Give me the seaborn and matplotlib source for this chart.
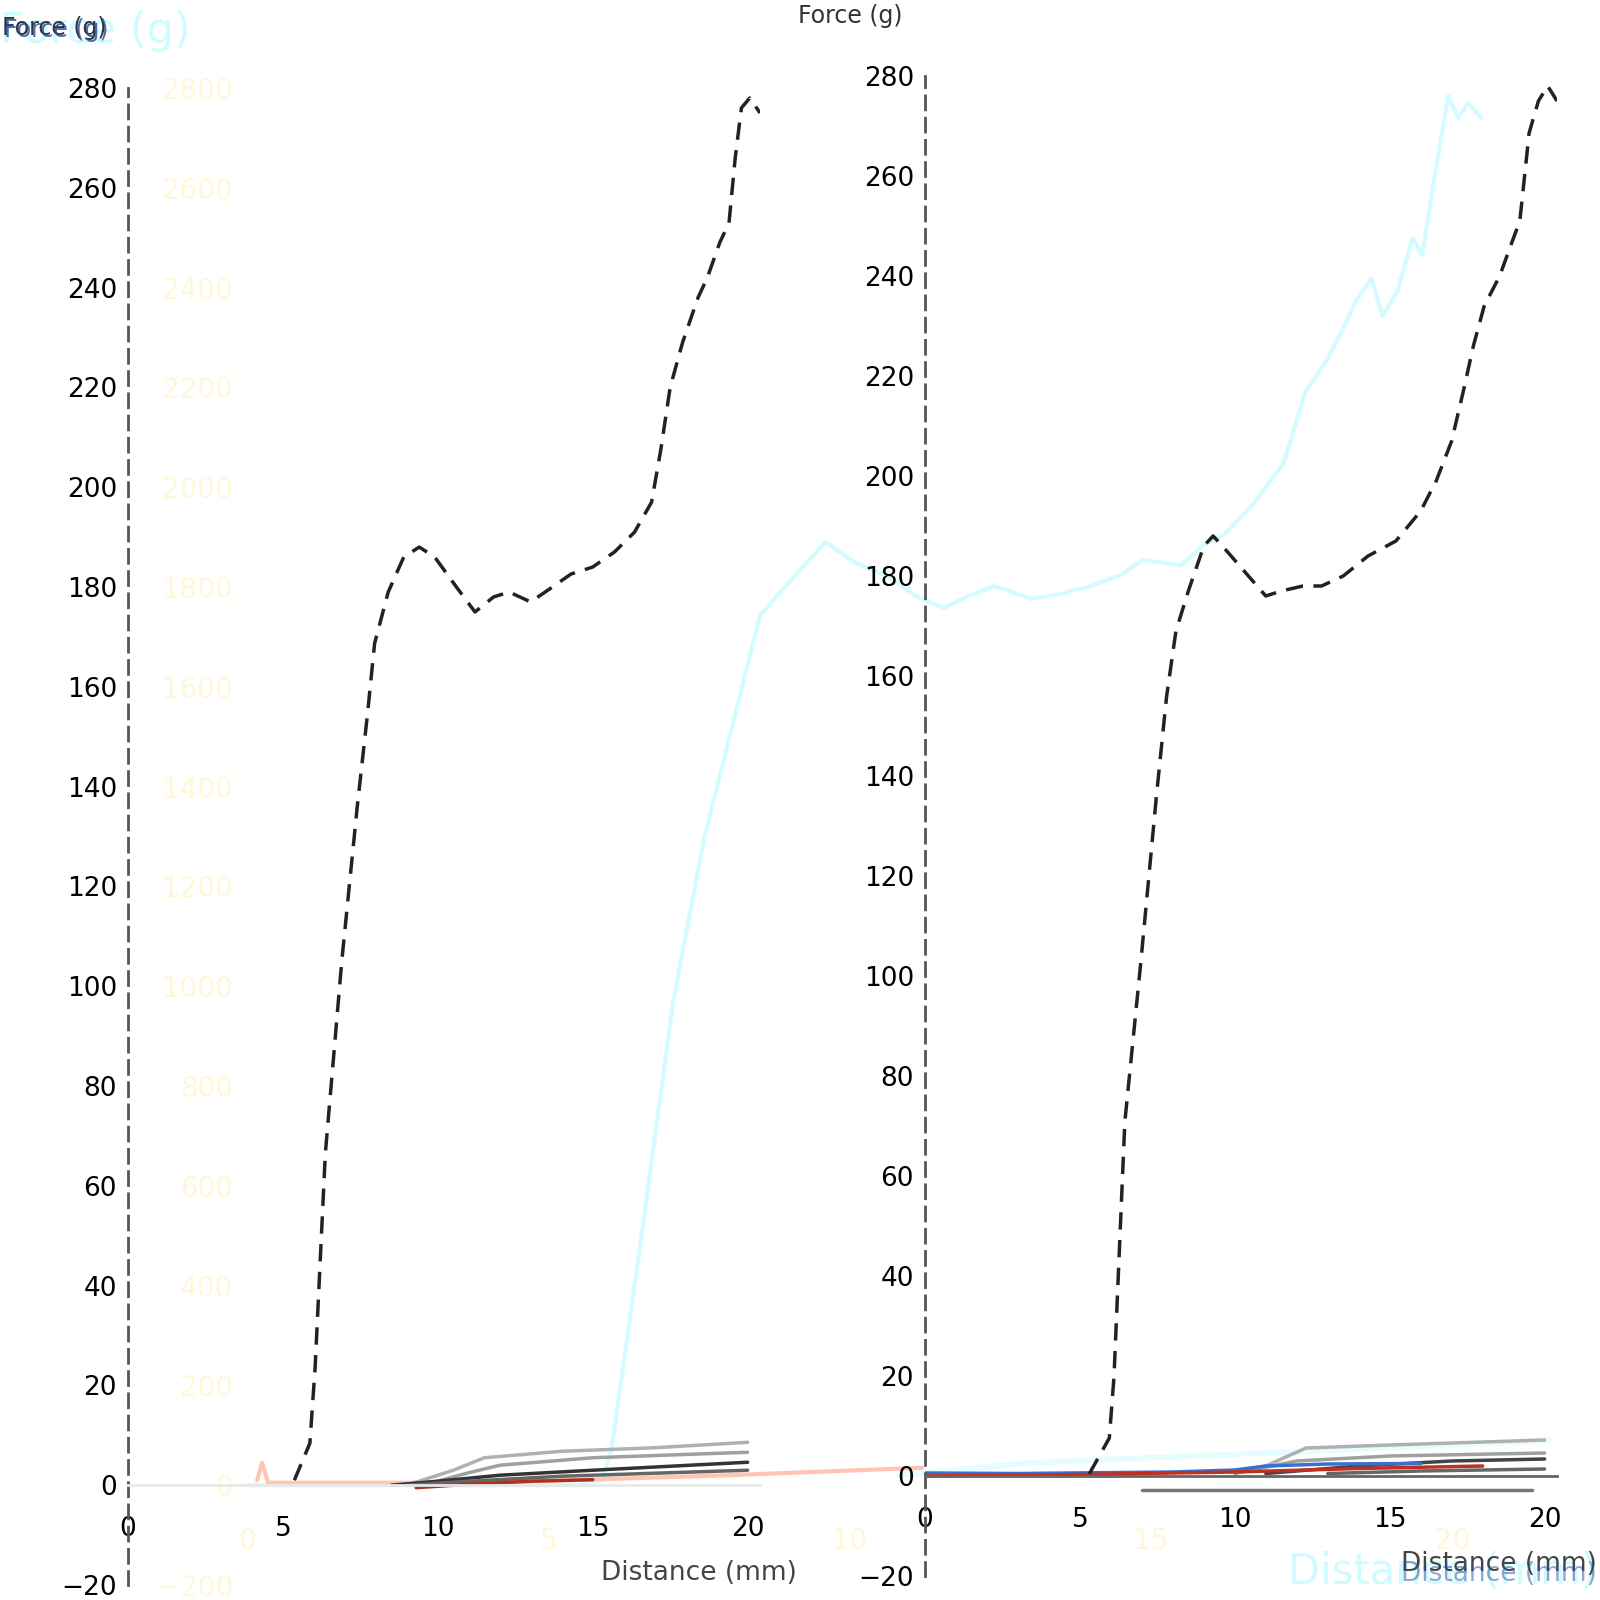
import matplotlib
matplotlib.use('Agg')
import matplotlib.pyplot as plt
import seaborn as sns
import pandas as pd

sns.set_style('white')
plt.rcParams['font.family'] = ['DejaVu Sans']

# light layer (whole width) -------------------------------------------------
bg_x = [0, 5.5, 5.89, 6.05, 6.57, 7.07, 7.58, 8.09, 8.51, 9.1, 9.6, 10.1, 10.6, 11.1, 11.56, 11.97,
        12.4, 12.65, 13.0, 13.5, 14.0, 14.5, 14.86, 15.5, 15.87, 16.2, 16.7, 17.2, 17.56, 17.9,
        18.16, 18.4, 18.66, 18.84, 19.09, 19.34, 19.5, 19.7, 19.93, 20.1, 20.26, 20.48]
bg_force = [0, 0, 10, 72, 521, 968, 1293, 1539, 1742, 1824, 1890, 1848, 1824, 1782, 1758, 1782,
            1802, 1792, 1776, 1786, 1802, 1824, 1854, 1844, 1884, 1904, 1966, 2048, 2190, 2251,
            2311, 2373, 2419, 2343, 2393, 2499, 2465, 2619, 2784, 2740, 2770, 2740]
bg_salmon_x = [0.17, 0.25, 0.35, 4.0, 8.0, 11.2]
bg_salmon_y = [10, 45, 5, 5, 20, 35]
bg_cyan2_x = [10.8, 13.0, 16.0, 19.0, 21.6]
bg_cyan2_y = [20, 45, 60, 75, 90]
bg_xticks = [0, 5, 10, 15, 20]
bg_yticks = list(range(-200, 2801, 200))

# dark layer: two panels -----------------------------------------------------
left_x = [5.37, 5.87, 6.04, 6.37, 6.9, 7.4, 7.73, 7.96, 8.4, 8.9, 9.4, 9.9, 10.6, 11.2, 11.8, 12.3,
          13.0, 13.7, 14.3, 15.0, 15.7, 16.35, 16.9, 17.2, 17.5, 17.9, 18.4, 18.7, 19.1, 19.4,
          19.6, 19.8, 20.07, 20.4]
left_force = [1, 8.4, 23.6, 66.5, 105, 136, 154.5, 168.7, 179, 186, 188, 186, 180, 175, 178, 179,
              177, 180, 182.6, 184, 187, 191, 197, 207.6, 220, 229, 238, 242, 249, 253,
              266, 276, 278, 275]
right_x = [5.3, 5.95, 6.1, 6.45, 6.97, 7.47, 7.8, 8.1, 8.5, 9.0, 9.3, 9.6, 10.3, 11.0, 11.5, 12.2,
           12.8, 13.5, 14.3, 15.2, 16.0, 16.5, 17.0, 17.4, 17.7, 18.05, 18.55, 18.9, 19.2, 19.5,
           19.8, 20.1, 20.4]
right_force = [0.4, 7.6, 19.8, 70.8, 103, 136, 156, 169, 177, 186, 188, 186, 181, 176, 177, 178,
               178, 180, 184, 187, 193, 199, 207, 217.6, 226, 234, 240, 246, 251, 268.6,
               275, 278, 275]

# small curves near zero (x, y, colour)
left_small = [
    ([9.0, 10.5, 11.5, 14.0, 17.0, 20.0], [0, 3, 5.5, 6.8, 7.5, 8.6], '#b0b0b0'),
    ([9.5, 11.0, 12.0, 15.0, 20.0], [0, 2.5, 4, 5.5, 6.6], '#a0a0a0'),
    ([8.5, 10.0, 12.0, 15.0, 20.0], [0, 0.8, 2, 3, 4.6], '#333333'),
    ([9.0, 11.0, 14.0, 20.0], [0, 0.8, 1.8, 3.0], '#666666'),
    ([9.3, 11.0, 13.0, 15.0], [-0.5, 0.2, 0.8, 1.1], '#b03020'),
]
right_small = [
    ([10.0, 11.0, 12.3, 15.0, 20.0], [0.8, 2, 5.6, 6.2, 7.2], '#b0b0b0'),
    ([10.0, 12.0, 15.0, 20.0], [0.5, 3, 4, 4.6], '#a0a0a0'),
    ([11.0, 14.0, 17.0, 20.0], [0.5, 2, 3, 3.4], '#444444'),
    ([13.0, 16.0, 20.0], [0.5, 1, 1.4], '#666666'),
    ([0.0, 3.0, 8.0, 10.0, 11.0, 13.0, 16.0], [0.6, 0.5, 0.8, 1.2, 2.0, 2.4, 2.5], '#3a70d0'),
    ([0.0, 5.0, 10.0, 14.0, 18.0], [0, 0.3, 0.8, 1.5, 2.0], '#c03020'),
    ([7.0, 12.0, 19.6], [-2.8, -2.8, -2.8], '#777777'),
]
panel_xticks = [0, 5, 10, 15, 20]
panel_yticks = list(range(-20, 281, 20))

W = 1600.0
fig = plt.figure(figsize=(16, 16), dpi=100)
fig.patch.set_facecolor('white')

# background light axes
ax_bg = fig.add_axes([247 / W, 1 - 1585 / W, 1350 / W, 1497 / W], zorder=0)
ax_bg.set_facecolor('none')
sns.lineplot(x=bg_x, y=bg_force, ax=ax_bg, color='#d4fbff', linewidth=3)
sns.lineplot(x=bg_salmon_x, y=bg_salmon_y, ax=ax_bg, color='#ffc4b4', linewidth=3)
sns.lineplot(x=bg_cyan2_x, y=bg_cyan2_y, ax=ax_bg, color='#e6fdff', linewidth=4)
ax_bg.set_xlim(0, 22.4)
ax_bg.set_ylim(-200, 2800)
ax_bg.set_xticks(bg_xticks)
ax_bg.set_yticks(bg_yticks)
for s in ax_bg.spines.values():
    s.set_visible(False)
ax_bg.spines['bottom'].set_position(('data', 0))
ax_bg.tick_params(axis='both', length=0, labelsize=20, labelcolor='#fff8d8')
ax_bg.tick_params(axis='x', pad=30)
ax_bg.tick_params(axis='y', pad=10)
ax_bg.set_ylabel('Force (g)', color='#cffcff', fontsize=31, rotation=0, ha='left', va='center')
ax_bg.yaxis.set_label_coords(-0.183, 1.038)
ax_bg.set_xlabel('Distance (mm)', color='#cffcff', fontsize=30, ha='right', va='center')
ax_bg.xaxis.set_label_coords(1.0, 0.009)


def dark_panel(rect, xs, ys, small, label_x, label_ha, xlabel_right):
    ax = fig.add_axes(rect, zorder=2)
    ax.set_facecolor('none')
    for sx, sy, c in small:
        sns.lineplot(x=sx, y=sy, ax=ax, color=c, linewidth=2.5)
    sns.lineplot(x=xs, y=ys, ax=ax, color='#222222', linewidth=2.5, linestyle=(0, (5, 3)))
    ax.set_xlim(0, 20.4)
    ax.set_ylim(-20, 280)
    ax.set_xticks(panel_xticks)
    ax.set_yticks(panel_yticks)
    ax.spines['top'].set_visible(False)
    ax.spines['right'].set_visible(False)
    ax.spines['left'].set_linestyle((0, (5, 3)))
    ax.spines['left'].set_color('#555555')
    ax.spines['left'].set_linewidth(2)
    ax.spines['bottom'].set_position(('data', 0))
    ax.spines['bottom'].set_color('#e8e8e8')
    ax.spines['bottom'].set_linewidth(2)
    ax.tick_params(axis='both', labelsize=19, colors='#555555', labelcolor='black', width=2)
    ax.tick_params(axis='x', direction='out', length=14, pad=8)
    ax.tick_params(axis='y', direction='out', length=8, pad=0)
    ax.set_ylabel('Force (g)', color='#333333', fontsize=17, rotation=0, ha=label_ha, va='center')
    ax.yaxis.set_label_coords(label_x, 1.04)
    ax.set_xlabel('Distance (mm)', color='#444444', fontsize=19, ha='right', va='center')
    ax.xaxis.set_label_coords(xlabel_right, 0.008)
    return ax


ax_l = dark_panel([128 / W, 1 - 1585 / W, 632 / W, 1497 / W], left_x, left_force, left_small,
                  -126 / 632, 'left', (797 - 128) / 632)
ax_r = dark_panel([925 / W, 1 - 1576 / W, 632 / W, 1500 / W], right_x, right_force, right_small,
                  -22 / 632, 'right', (1597 - 925) / 632)
ax_r.spines['bottom'].set_color('#666666')

# blue overprint of the labels
fig.text(4 / W, 1 - 30 / W, 'Force (g)', color='#1f4a9a', fontsize=17, ha='left', va='center',
         alpha=0.8)
fig.text(1597 / W, 1 - 1574 / W, 'Distance (mm)', color='#2050a8', fontsize=19,
         ha='right', va='center', alpha=0.5)

fig.savefig('out.png', dpi=100, facecolor='white')
